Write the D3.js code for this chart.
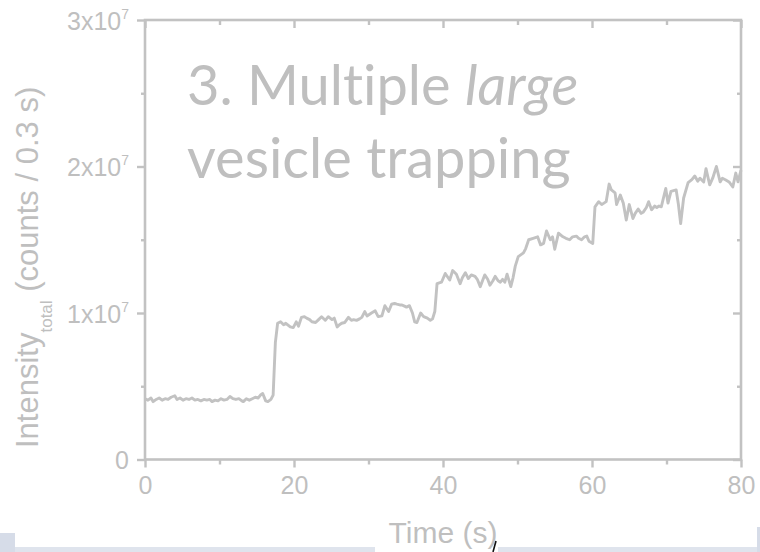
<!DOCTYPE html>
<html>
<head>
<meta charset="utf-8">
<script src="https://cdn.jsdelivr.net/npm/d3@7"></script>
<style>
  html, body { margin: 0; padding: 0; background: #ffffff; }
  svg { display: block; }
</style>
</head>
<body>
<div id="chart"></div>
<script>
// Total intensity trace (counts per 0.3 s bin), values in units of 10^6 counts
const timeS = [
  0.0, 0.4, 0.8, 1.1, 1.5, 1.9, 2.3, 2.7, 3.1, 3.5, 4.0, 4.3, 4.7, 5.1, 5.5, 5.9,
  6.3, 6.7, 7.1, 7.5, 7.9, 8.3, 8.7, 9.0, 9.4, 9.8, 10.2, 10.6, 11.0, 11.4, 11.8,
  12.2, 12.6, 13.0, 13.2, 13.6, 14.0, 14.4, 14.8, 15.2, 15.5, 15.8, 16.2, 16.5,
  16.9, 17.2, 17.5, 17.8, 18.2, 18.6, 18.9, 19.5, 19.9, 20.3, 20.6, 21.0, 21.4,
  21.7, 22.1, 22.4, 22.9, 23.3, 23.7, 24.2, 24.6, 25.1, 25.4, 25.8, 26.1, 26.4,
  26.8, 27.3, 27.7, 28.0, 28.4, 28.8, 29.1, 29.5, 29.8, 30.1, 30.4, 30.9, 31.3,
  31.8, 32.2, 32.7, 33.1, 33.5, 33.8, 34.2, 34.5, 34.9, 35.1, 35.5, 35.9, 36.2,
  36.5, 37.0, 37.4, 37.9, 38.3, 38.6, 38.9, 39.2, 39.8, 40.3, 40.9, 41.3, 41.8,
  42.3, 42.6, 43.0, 43.4, 43.8, 44.3, 44.6, 45.0, 45.6, 46.0, 46.3, 46.7, 47.0,
  47.4, 47.7, 48.0, 48.3, 48.6, 49.1, 49.4, 49.7, 50.1, 50.8, 51.1, 51.5, 52.1,
  52.7, 53.1, 53.5, 53.9, 54.4, 54.7, 55.0, 55.5, 56.1, 56.5, 57.0, 57.4, 57.9,
  58.2, 58.6, 59.0, 59.3, 59.6, 60.1, 60.4, 60.9, 61.3, 61.9, 62.3, 62.6, 63.1,
  63.3, 63.8, 64.2, 64.6, 65.0, 65.5, 65.8, 66.2, 66.6, 66.9, 67.3, 67.6, 68.0,
  68.4, 68.7, 69.0, 69.3, 69.9, 70.2, 70.6, 71.3, 71.6, 71.9, 72.3, 72.9, 73.4,
  73.8, 74.2, 74.5, 75.0, 75.3, 75.8, 76.2, 76.7, 77.2, 77.5, 77.9, 78.4, 78.9,
  79.3, 79.6, 80.0
];
const intensityM = [
  4.15, 4.05, 4.2, 3.95, 4.1, 4.2, 4.05, 4.15, 4.1, 4.25, 4.35, 4.1, 4.2, 4.05, 4.15, 4.1,
  4.2, 4.05, 4.1, 4.0, 4.1, 4.05, 4.1, 3.95, 4.05, 4.0, 4.15, 4.05, 4.1, 4.3, 4.15,
  4.1, 4.15, 4.0, 3.95, 4.15, 4.05, 4.15, 4.25, 4.2, 4.4, 4.5, 4.0, 3.95,
  4.1, 4.4, 8.0, 9.3, 9.4, 9.2, 9.3, 9.05, 9.0, 9.4, 9.1, 9.7, 9.75,
  9.65, 9.55, 9.4, 9.35, 9.55, 9.75, 9.5, 9.75, 9.55, 9.65, 9.05, 9.2, 9.3,
  9.35, 9.7, 9.5, 9.55, 9.5, 9.6, 9.7, 10.1, 9.8, 9.9, 10.0, 10.15, 9.75,
  9.8, 10.5, 10.1, 10.6, 10.65, 10.6, 10.55, 10.55, 10.45, 10.4, 10.5, 10.0, 9.4,
  9.35, 10.0, 9.75, 9.65, 9.5, 9.6, 10.1, 12.0, 12.1, 12.7, 12.25, 12.9, 12.65,
  12.0, 12.4, 12.75, 12.35, 12.6, 12.5, 12.3, 11.8, 12.6, 12.3, 11.9, 12.2, 12.5,
  12.2, 12.1, 12.3, 12.1, 12.65, 11.8, 12.4, 13.2, 13.85, 14.1, 14.4, 15.0, 15.1,
  15.2, 14.65, 14.75, 15.6, 15.0, 15.2, 14.35, 15.45, 15.2, 15.1, 15.0, 15.2, 15.25,
  15.1, 15.0, 15.2, 15.25, 14.9, 14.75, 17.25, 17.6, 17.4, 17.6, 18.8, 18.4, 18.2,
  17.4, 18.05, 17.5, 16.35, 17.4, 16.45, 16.8, 17.1, 16.8, 16.9, 17.2, 17.6, 17.05,
  17.3, 17.2, 17.3, 17.25, 18.5, 17.5, 18.3, 18.4, 17.4, 16.1, 17.85, 18.9, 19.1,
  19.35, 19.0, 19.2, 18.95, 19.85, 18.75, 19.2, 20.0, 18.95, 19.2, 19.1, 18.95, 18.6,
  19.55, 18.95, 19.75
];

const xMajorTicks = [0, 20, 40, 60, 80];
const xMinorTicks = [10, 30, 50, 70];
const yMajorTicks = [0, 1e7, 2e7, 3e7];
const yMinorTicks = [0.5e7, 1.5e7, 2.5e7];
const yTickMantissa = ["0", "1", "2", "3"];
const titleLines = ["3. Multiple ", "large", "vesicle trapping"];

const W = 760, H = 552;
const grey = "#c2c2c2";
const textGrey = "#bfbfbf";
const plotL = 145, plotR = 741, plotT = 20, plotB = 459.5;
const sansFont = "'Liberation Sans', Arial, sans-serif";

const svg = d3.select("#chart").append("svg")
  .attr("width", W).attr("height", H);

const x = d3.scaleLinear().domain([0, 80]).range([plotL, plotR]);
const y = d3.scaleLinear().domain([0, 3e7]).range([plotB, plotT]);

const data = timeS.map((t, i) => ({ t, v: intensityM[i] * 1e6 }));

// Trace
svg.append("path")
  .datum(data)
  .attr("fill", "none")
  .attr("stroke", grey)
  .attr("stroke-width", 2.9)
  .attr("stroke-linejoin", "round")
  .attr("d", d3.line().x(d => x(d.t)).y(d => y(d.v)));

// Frame
svg.append("rect")
  .attr("x", plotL).attr("y", plotT)
  .attr("width", plotR - plotL).attr("height", plotB - plotT)
  .attr("fill", "none").attr("stroke", grey).attr("stroke-width", 2.6);

function styleAxis(g) {
  g.select(".domain").remove();
  g.selectAll(".tick line").attr("stroke", grey).attr("stroke-width", 2.4);
}

// Bottom axis: outward ticks with labels
const gBottom = svg.append("g").attr("transform", `translate(0,${plotB})`)
  .call(d3.axisBottom(x).tickValues(xMajorTicks).tickSize(8).tickPadding(9))
  .call(styleAxis);
gBottom.selectAll(".tick text")
  .attr("fill", textGrey)
  .style("font-family", sansFont)
  .style("font-size", "25px");
svg.append("g").attr("transform", `translate(0,${plotB})`)
  .call(d3.axisBottom(x).tickValues(xMinorTicks).tickSize(5).tickFormat(""))
  .call(styleAxis);

// Top axis: inward ticks, no labels
svg.append("g").attr("transform", `translate(0,${plotT})`)
  .call(d3.axisTop(x).tickValues(xMajorTicks).tickSize(-8).tickFormat(""))
  .call(styleAxis);
svg.append("g").attr("transform", `translate(0,${plotT})`)
  .call(d3.axisTop(x).tickValues(xMinorTicks).tickSize(-5).tickFormat(""))
  .call(styleAxis);

// Left axis: outward ticks with scientific labels
const gLeft = svg.append("g").attr("transform", `translate(${plotL},0)`)
  .call(d3.axisLeft(y).tickValues(yMajorTicks).tickSize(8).tickPadding(8).tickFormat(""))
  .call(styleAxis);
gLeft.selectAll(".tick").each(function (d, i) {
  const t = d3.select(this).select("text")
    .attr("fill", textGrey)
    .attr("dy", null)
    .attr("y", 9)
    .style("font-family", sansFont)
    .style("font-size", "25px");
  if (d === 0) {
    t.text(yTickMantissa[i]);
  } else {
    t.append("tspan").text(yTickMantissa[i] + "x10");
    t.append("tspan").attr("dy", -11).style("font-size", "14px").text("7");
  }
});
svg.append("g").attr("transform", `translate(${plotL},0)`)
  .call(d3.axisLeft(y).tickValues(yMinorTicks).tickSize(4).tickFormat(""))
  .call(styleAxis);

// Right axis: inward ticks, no labels
svg.append("g").attr("transform", `translate(${plotR},0)`)
  .call(d3.axisRight(y).tickValues(yMajorTicks).tickSize(-8).tickFormat(""))
  .call(styleAxis);
svg.append("g").attr("transform", `translate(${plotR},0)`)
  .call(d3.axisRight(y).tickValues(yMinorTicks).tickSize(-4).tickFormat(""))
  .call(styleAxis);

// Axis titles
svg.append("text")
  .attr("x", (plotL + plotR) / 2).attr("y", 543)
  .attr("text-anchor", "middle")
  .attr("fill", textGrey)
  .style("font-family", sansFont)
  .style("font-size", "30px")
  .text("Time (s)");

const yTitle = svg.append("text")
  .attr("transform", "translate(38,448) rotate(-90)")
  .attr("fill", textGrey)
  .style("font-family", sansFont)
  .style("font-size", "31px");
yTitle.append("tspan").text("Intensity");
yTitle.append("tspan").attr("dy", 14).style("font-size", "17px").text("total");
yTitle.append("tspan").attr("dy", -14).text(" (counts / 0.3 s)");

// Panel caption
const cap = svg.append("text")
  .attr("fill", textGrey)
  .style("font-family", "Lato, 'Open Sans', sans-serif")
  .style("font-size", "56px")
  .style("font-variant-ligatures", "none");
cap.append("tspan").attr("x", 187).attr("y", 105).text(titleLines[0]);
cap.append("tspan").style("font-style", "italic").text(titleLines[1]);
cap.append("tspan").attr("x", 187).attr("y", 178).text(titleLines[2]);

// Window edge strip along the bottom of the page
const edge = "#dfe4ed";
svg.append("rect").attr("x", 0).attr("y", 533).attr("width", 15).attr("height", 19).attr("fill", "#d6dce8");
svg.append("rect").attr("x", 15).attr("y", 547).attr("width", 360).attr("height", 5).attr("fill", edge);
svg.append("rect").attr("x", 498).attr("y", 547).attr("width", 259).attr("height", 5).attr("fill", edge);
svg.append("rect").attr("x", 757).attr("y", 527).attr("width", 3).attr("height", 25).attr("fill", "#d6dce8");
svg.append("path").attr("d", "M496,541 L493,552").attr("stroke", "#111").attr("stroke-width", 1.6).attr("fill", "none");
</script>
</body>
</html>
